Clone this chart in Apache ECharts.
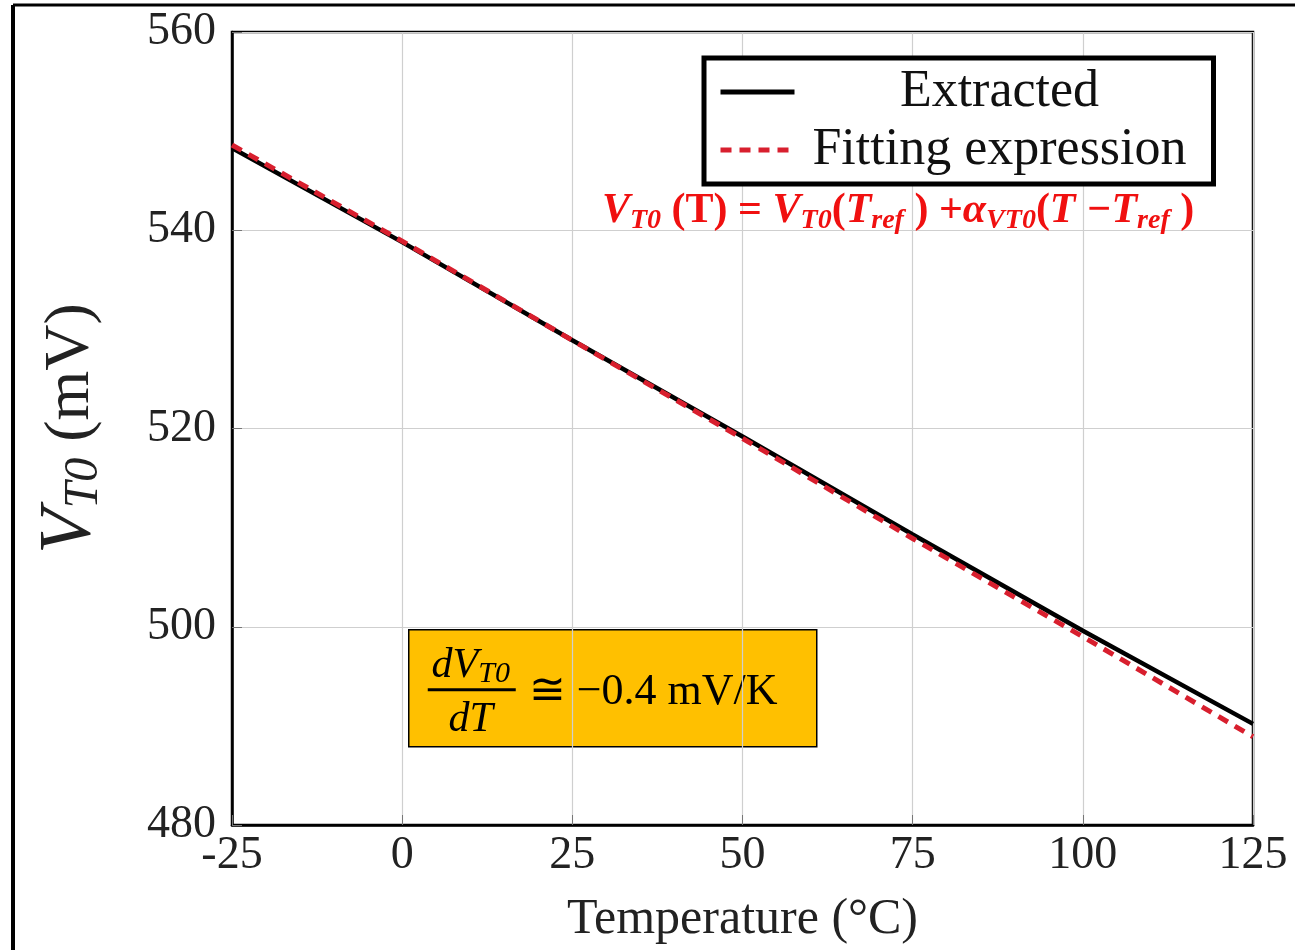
<!DOCTYPE html>
<html lang="en">

<head>
    <meta charset="UTF-8">
    <title>VT0 vs Temperature</title>
    <script src="https://cdn.jsdelivr.net/npm/echarts@6/dist/echarts.min.js"></script>
    <style>
        html, body { margin: 0; padding: 0; background: #fff; }
    </style>
</head>

<body>
    <div id="main" style="width: 1295px; height: 950px;"></div>
    <script>
        // temperatures (degC) and VT0 values (mV)
        var temps = [-25, 0, 25, 50, 75, 100, 125];
        var extracted = [548.3, 538.8, 528.9, 519.2, 509.3, 499.6, 490.2];
        var fitting = [548.6, 538.9, 528.9, 519.0, 508.9, 499.0, 488.9];
        var xTicks = { min: -25, max: 125, step: 25 };
        var yTicks = { min: 480, max: 560, step: 20 };

        var serif = '"Liberation Serif", "DejaVu Serif", serif';

        function pairs(xs, ys) {
            return xs.map(function (x, i) { return [x, ys[i]]; });
        }

        var chartDom = document.getElementById('main');
        var myChart = echarts.init(chartDom);
        var option;

        option = {
            animation: false,
            backgroundColor: '#fff',
            grid: {
                left: 232,
                right: 42,
                top: 32,
                bottom: 123,
                show: true,
                borderColor: '#000',
                borderWidth: 2.5,
                backgroundColor: 'transparent'
            },
            legend: {
                data: [
                    { name: 'Extracted', lineStyle: { width: 5 } },
                    { name: 'Fitting expression', lineStyle: { width: 5, type: [11, 8] } }
                ],
                orient: 'vertical',
                left: 704,
                top: 58,
                padding: [8, 14, 8, 14],
                itemGap: 6,
                itemWidth: 74,
                itemHeight: 14,
                borderColor: '#000',
                borderWidth: 5,
                backgroundColor: '#fff',
                itemStyle: { opacity: 0 },
                formatter: function (name) { return '{a|' + name + '}'; },
                textStyle: {
                    rich: {
                        a: {
                            fontFamily: serif,
                            fontSize: 52,
                            color: '#111',
                            width: 400,
                            align: 'center',
                            lineHeight: 52
                        }
                    }
                }
            },
            xAxis: {
                type: 'value',
                min: xTicks.min,
                max: xTicks.max,
                interval: xTicks.step,
                name: 'Temperature (°C)',
                nameLocation: 'middle',
                nameGap: 70,
                nameTextStyle: { fontFamily: serif, fontSize: 50, color: '#222' },
                axisLine: { show: true, onZero: false, lineStyle: { color: '#000', width: 2.5 } },
                axisTick: { show: true, inside: true, length: 10, lineStyle: { color: '#777' } },
                axisLabel: { fontFamily: serif, fontSize: 46, color: '#222', margin: 8 },
                splitLine: { show: true, lineStyle: { color: '#cfcfcf', width: 1.2 } }
            },
            yAxis: {
                type: 'value',
                min: yTicks.min,
                max: yTicks.max,
                interval: yTicks.step,
                name: '{v|V}{s|T0}{p| (mV)}',
                nameLocation: 'middle',
                nameGap: 124,
                nameRotate: 90,
                nameTextStyle: {
                    rich: {
                        v: { fontFamily: serif, fontStyle: 'italic', fontSize: 74, color: '#222', lineHeight: 74, verticalAlign: 'middle' },
                        s: { fontFamily: serif, fontStyle: 'italic', fontSize: 48, color: '#222', lineHeight: 48, verticalAlign: 'bottom' },
                        p: { fontFamily: serif, fontSize: 64, color: '#222', lineHeight: 74, verticalAlign: 'middle' }
                    }
                },
                axisLine: { show: true, onZero: false, lineStyle: { color: '#000', width: 2.5 } },
                axisTick: { show: true, inside: true, length: 10, lineStyle: { color: '#777' } },
                axisLabel: { fontFamily: serif, fontSize: 46, color: '#222', margin: 16 },
                splitLine: { show: true, lineStyle: { color: '#cfcfcf', width: 1.2 } }
            },
            series: [
                {
                    name: 'Extracted',
                    type: 'line',
                    data: pairs(temps, extracted),
                    symbol: 'none',
                    z: 3,
                    lineStyle: { color: '#000', width: 4.5 },
                    itemStyle: { color: '#000' }
                },
                {
                    name: 'Fitting expression',
                    type: 'line',
                    data: pairs(temps, fitting),
                    symbol: 'none',
                    z: 4,
                    lineStyle: { color: '#d81f2e', width: 5, type: [11, 8] },
                    itemStyle: { color: '#d81f2e' }
                }
            ],
            graphic: [
                // outer frame (left and top edges only are visible)
                { type: 'line', shape: { x1: 13, y1: 5, x2: 13, y2: 950 }, style: { stroke: '#000', lineWidth: 4 }, z: 10 },
                { type: 'line', shape: { x1: 13, y1: 5, x2: 1295, y2: 5 }, style: { stroke: '#000', lineWidth: 3 }, z: 10 },
                // red formula
                {
                    type: 'text',
                    left: 602,
                    top: 190,
                    z: 20,
                    style: {
                        text: '{m|V}{s|T0}{r| (T) = }{m|V}{s|T0}{r|(}{m|T}{s|ref}{r| ) +}{m|α}{s|VT0}{r|(}{m|T −T}{s|ref}{r| )}',
                        rich: {
                            m: { fontFamily: serif, fontStyle: 'italic', fontWeight: 'bold', fontSize: 42, fill: '#f01010', lineHeight: 48, verticalAlign: 'middle' },
                            r: { fontFamily: serif, fontWeight: 'bold', fontSize: 42, fill: '#f01010', lineHeight: 48, verticalAlign: 'middle' },
                            s: { fontFamily: serif, fontStyle: 'italic', fontWeight: 'bold', fontSize: 28, fill: '#f01010', lineHeight: 28, verticalAlign: 'bottom' }
                        }
                    }
                },
                // yellow slope box
                {
                    type: 'group',
                    left: 408,
                    top: 629,
                    z: 20,
                    children: [
                        { type: 'rect', shape: { x: 0, y: 0, width: 408, height: 117 }, style: { fill: '#ffc000', stroke: '#000', lineWidth: 1.5 } },
                        {
                            type: 'text', x: 62, y: 36,
                            style: {
                                text: '{d|dV}{s|T0}',
                                align: 'center', verticalAlign: 'middle',
                                rich: {
                                    d: { fontFamily: serif, fontStyle: 'italic', fontSize: 42, fill: '#000', lineHeight: 46, verticalAlign: 'middle' },
                                    s: { fontFamily: serif, fontStyle: 'italic', fontSize: 30, fill: '#000', lineHeight: 30, verticalAlign: 'bottom' }
                                }
                            }
                        },
                        { type: 'line', shape: { x1: 19, y1: 60, x2: 107, y2: 60 }, style: { stroke: '#000', lineWidth: 3 } },
                        {
                            type: 'text', x: 62, y: 90,
                            style: { text: 'dT', align: 'center', verticalAlign: 'middle', fontFamily: serif, fontStyle: 'italic', fontSize: 42, fill: '#000' }
                        },
                        {
                            type: 'text', x: 120, y: 63,
                            style: { text: '≅ −0.4 mV/K', align: 'left', verticalAlign: 'middle', fontFamily: serif, fontSize: 44, fill: '#000' }
                        }
                    ]
                }
            ]
        };

        option && myChart.setOption(option);
        window.addEventListener('resize', function () {
            myChart.resize();
        });
    </script>
</body>

</html>
